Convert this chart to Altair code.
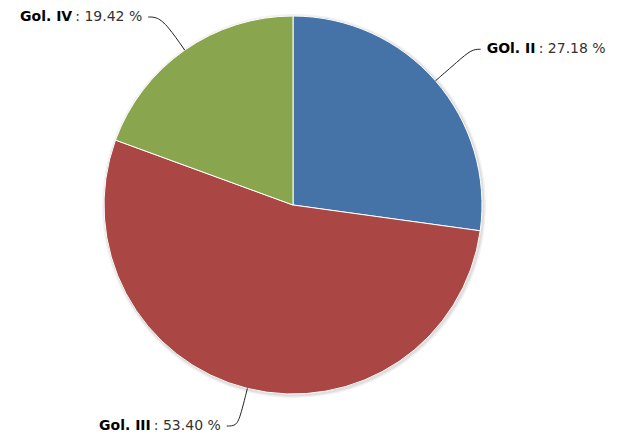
import numpy as np
import pandas as pd
import altair as alt

# ---- data ----
names = ["GOl. II", "Gol. III", "Gol. IV"]
values = [27.18, 53.40, 19.42]
colors = ["#4572A7", "#AA4643", "#89A54E"]

# ---- layout / style constants ----
W, H = 602, 426          # plot area (page minus 8px margins)
CX, CY = 285, 197        # pie centre in plot pixels
R = 189                  # pie radius
R_OUT = 237              # connector bend radius
HOR = 9                  # horizontal connector segment
GAP = 6                  # gap between connector and label
EDGE_TOP = 9             # keep labels this far inside the drawing area
EDGE_BOT = 8
NAME_W = [50, 54, 54]    # approx. rendered width of bold names
VAL_W = [68, 68, 68]     # approx. rendered width of values
FONT = "DejaVu Sans"

vals = np.array(values)
total = vals.sum()
cum = np.cumsum(vals)
mid = (cum - vals / 2) / total * 2 * np.pi

pie_df = pd.DataFrame({"name": names, "value": values, "idx": range(len(names))})

y_max = CY - EDGE_TOP
y_min = -(H - CY) + EDGE_BOT

line_rows = []
lab_rows = []
for i, n in enumerate(names):
    a = mid[i]
    s, c = np.sin(a), np.cos(a)
    side = 1 if s >= 0 else -1
    by = float(np.clip(R_OUT * c, y_min, y_max))
    pts = [(R * s, R * c), ((R + 30) * s, (R + 30) * c), (R_OUT * s, by),
           (R_OUT * s + side * HOR, by)]
    for k, (x, y) in enumerate(pts):
        line_rows.append({"name": n, "step": k, "x": x, "y": y})
    ax = R_OUT * s + side * (HOR + GAP)
    ay = by
    vtxt = f": {values[i]:.2f} %"
    if side > 0:
        lab_rows.append({"t": n, "x": ax, "y": ay, "kind": "name", "al": "left"})
        lab_rows.append({"t": vtxt, "x": ax + NAME_W[i] + 2, "y": ay, "kind": "val", "al": "left"})
    else:
        lab_rows.append({"t": vtxt, "x": ax, "y": ay, "kind": "val", "al": "right"})
        lab_rows.append({"t": n, "x": ax - VAL_W[i] - 2, "y": ay, "kind": "name", "al": "right"})

line_df = pd.DataFrame(line_rows)
lab_df = pd.DataFrame(lab_rows)

xs = alt.Scale(domain=[-CX, W - CX], nice=False, zero=False)
ys = alt.Scale(domain=[-(H - CY), CY], nice=False, zero=False)

shadow1 = alt.Chart(pie_df).mark_arc(radius=R + 3, color="#000000", opacity=0.05).encode(
    theta=alt.Theta("value:Q", stack=True), x=alt.value(CX + 1), y=alt.value(CY + 1))
shadow2 = alt.Chart(pie_df).mark_arc(radius=R + 1.5, color="#000000", opacity=0.08).encode(
    theta=alt.Theta("value:Q", stack=True), x=alt.value(CX + 1), y=alt.value(CY + 1))

pie = alt.Chart(pie_df).mark_arc(radius=R, stroke="#ffffff", strokeWidth=1).encode(
    theta=alt.Theta("value:Q", stack=True),
    color=alt.Color("name:N", scale=alt.Scale(domain=names, range=colors), legend=None),
    order=alt.Order("idx:Q"),
    x=alt.value(CX), y=alt.value(CY),
)

lines = alt.Chart(line_df).mark_line(color="#222222", strokeWidth=1, interpolate="basis").encode(
    x=alt.X("x:Q", scale=xs, axis=None),
    y=alt.Y("y:Q", scale=ys, axis=None),
    detail="name:N",
    order="step:Q",
)

def text_layer(kind, align):
    d = lab_df[(lab_df.kind == kind) & (lab_df.al == align)]
    return alt.Chart(d).mark_text(
        align=align, baseline="middle", font=FONT, fontSize=14,
        fontWeight="bold" if kind == "name" else "normal",
        color="#000000" if kind == "name" else "#333333",
    ).encode(x=alt.X("x:Q", scale=xs, axis=None), y=alt.Y("y:Q", scale=ys, axis=None), text="t:N")

texts = [text_layer(k, a) for k in ["name", "val"] for a in ["left", "right"]
         if len(lab_df[(lab_df.kind == k) & (lab_df.al == a)])]

chart = alt.layer(shadow1, shadow2, pie, lines, *texts).properties(
    width=W, height=H, padding=0, autosize="none", background="#ffffff"
).configure_view(stroke=None)

chart.save("out.html", embed_options={"renderer": "svg", "actions": False})
